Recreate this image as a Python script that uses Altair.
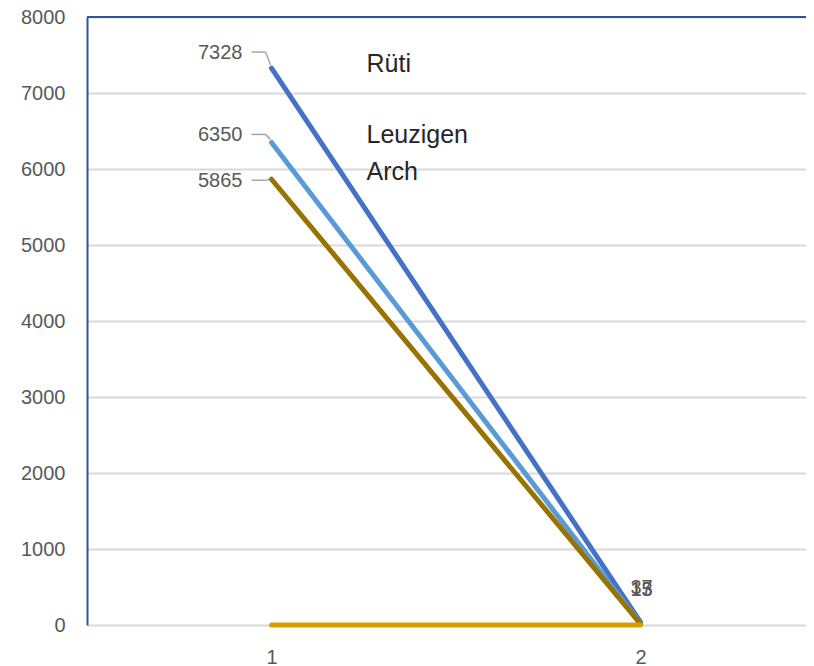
import altair as alt
import pandas as pd

# ---- data ----
categories = [1, 2]
series_names = ["Rüti", "Leuzigen", "Arch", "Linie 4"]
rueti = [7328, 37]
leuzigen = [6350, 15]
arch = [5865, 13]
linie4 = [0, 0]
y_ticks = [0, 1000, 2000, 3000, 4000, 5000, 6000, 7000, 8000]

values = {"Rüti": rueti, "Leuzigen": leuzigen, "Arch": arch, "Linie 4": linie4}

# ---- styles ----
colors = {"Rüti": "#4472C4", "Leuzigen": "#5B9BD5", "Arch": "#997300", "Linie 4": "#D4A000"}
start_label_dy = {"Rüti": -15, "Leuzigen": -7, "Arch": 2}
name_label_dy = {"Rüti": 4, "Leuzigen": 1, "Arch": 1}
FONT = "Liberation Sans"
W, H = 719, 608

x_scale = alt.Scale(domain=[0.5, 2.4485], nice=False, zero=False)
y_scale = alt.Scale(domain=[0, 8000], nice=False)

layers = []

base_df = pd.DataFrame({"x": categories, "v": rueti})
axes = alt.Chart(base_df).mark_point(opacity=0).encode(
    x=alt.X("x:Q", scale=x_scale, title=None,
            axis=alt.Axis(values=categories, format="d", domain=False, ticks=False, grid=False,
                          labelFontSize=20, labelColor="#595959", labelFont=FONT, labelPadding=22)),
    y=alt.Y("v:Q", scale=y_scale, title=None,
            axis=alt.Axis(values=y_ticks, format="d", domain=True, domainColor="#2F5597", domainWidth=2,
                          ticks=False, grid=True, gridColor="#D9D9D9", gridWidth=2,
                          labelFontSize=20, labelColor="#595959", labelFont=FONT, labelPadding=22)),
)
layers.append(axes)

# top border
layers.append(alt.Chart(base_df).mark_rule(color="#2F5597", strokeWidth=2).encode(y=alt.datum(8000, scale=y_scale)))

for name in ["Rüti", "Leuzigen", "Arch"]:
    df = pd.DataFrame({"x": categories, "v": values[name]})
    first = df.iloc[[0]]
    last = df.iloc[[1]]
    dy = start_label_dy[name]
    # leader lines
    layers.append(alt.Chart(first).mark_rule(color="#A6A6A6", strokeWidth=1.5,
                                             xOffset=-20, x2Offset=-6, yOffset=dy - 1, y2Offset=dy - 1).encode(
        x=alt.X("x:Q", scale=x_scale), x2="x:Q", y=alt.Y("v:Q", scale=y_scale), y2="v:Q"))
    layers.append(alt.Chart(first).mark_rule(color="#A6A6A6", strokeWidth=1.5,
                                             xOffset=-6, x2Offset=-1, yOffset=dy - 1, y2Offset=-3 if dy < 0 else 0).encode(
        x=alt.X("x:Q", scale=x_scale), x2="x:Q", y=alt.Y("v:Q", scale=y_scale), y2="v:Q"))
    # start value labels
    layers.append(alt.Chart(first).mark_text(align="right", baseline="middle", dx=-29, dy=dy,
                                             fontSize=20, font=FONT, color="#595959").encode(
        x=alt.X("x:Q", scale=x_scale), y=alt.Y("v:Q", scale=y_scale), text=alt.Text("v:Q", format="d")))
    # end value labels
    layers.append(alt.Chart(last).mark_text(align="center", baseline="middle", dx=1, dy=-34,
                                            fontSize=20, font=FONT, color="#595959").encode(
        x=alt.X("x:Q", scale=x_scale), y=alt.Y("v:Q", scale=y_scale), text=alt.Text("v:Q", format="d")))
    # series name labels
    ndf = first.assign(name=name)
    layers.append(alt.Chart(ndf).mark_text(align="left", baseline="alphabetic", dx=95, dy=name_label_dy[name],
                                           fontSize=25, font=FONT, color="#262626").encode(
        x=alt.X("x:Q", scale=x_scale), y=alt.Y("v:Q", scale=y_scale), text="name:N"))

for name in series_names:
    df = pd.DataFrame({"x": categories, "v": values[name]})
    layers.append(alt.Chart(df).mark_line(color=colors[name], strokeWidth=5, strokeCap="round").encode(
        x=alt.X("x:Q", scale=x_scale), y=alt.Y("v:Q", scale=y_scale)))

chart = alt.layer(*layers).properties(
    width=W, height=H,
    autosize=alt.AutoSizeParams(type="none"),
    padding={"left": 79, "top": 9, "right": 0, "bottom": 40},
).configure_view(stroke=None).configure(background="white")

chart.save("out.html", embed_options={"renderer": "svg", "actions": False})
